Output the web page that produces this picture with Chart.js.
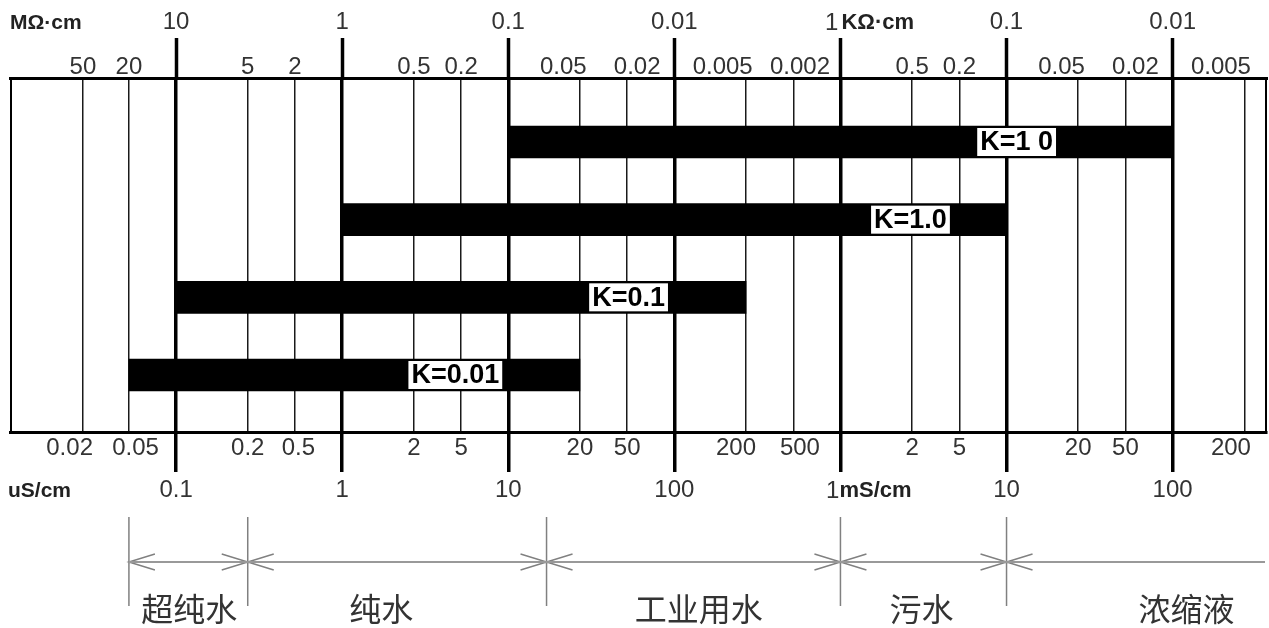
<!DOCTYPE html>
<html>
<head>
<meta charset="utf-8">
<title>电导率范围</title>
<script src="https://cdn.jsdelivr.net/npm/chart.js@4.4.1/dist/chart.umd.min.js"></script>
<style>
  html, body { margin: 0; padding: 0; background: #fff; }
  canvas { display: block; }
</style>
</head>
<body>
<canvas id="mycanvas" width="1269" height="628"></canvas>
<script>
// bottom scale is conductivity in uS/cm, top scale is resistivity (1 / conductivity)
var majorTicks = [0.1, 1, 10, 100, 1000, 10000, 100000];
var bottomMajorLabels = ['0.1', '1', '10', '100', '1', '10', '100'];
var bottomMajorUnits = ['', '', '', '', 'mS/cm', '', ''];
var topMajorLabels = ['10', '1', '0.1', '0.01', '1', '0.1', '0.01'];
var topMajorUnits = ['', '', '', '', 'KΩ·cm', '', ''];

// minor lines, placed where the picture has them
var minorTicks = [0.0275, 0.052, 0.27, 0.52, 2.7, 5.2, 27, 52, 270, 520, 2700, 5200, 27000, 52000, 270000];
var bottomMinorLabels = ['0.02', '0.05', '0.2', '0.5', '2', '5', '20', '50', '200', '500', '2', '5', '20', '50', '200'];
var topMinorLabels = ['50', '20', '5', '2', '0.5', '0.2', '0.05', '0.02', '0.005', '0.002', '0.5', '0.2', '0.05', '0.02', '0.005'];

// measuring ranges per cell constant
var cellConstants = ['K=1 0', 'K=1.0', 'K=0.1', 'K=0.01'];
var rangeFrom = [10, 1, 0.1, 0.052];
var rangeTo = [100000, 10000, 270, 27];
var tagAt = [11500, 2640, 53, 4.8];

// water classes under the chart
var waterTypes = ['超纯水', '纯水', '工业用水', '污水', '浓缩液'];
var waterFrom = [0.052, 0.27, 17, 1000, 10000];
var waterTagAt = [0.12, 1.72, 140, 3080, 121000];

// the minor labels in the picture sit a little off their lines (px, + is right)
var bottomNudge = [-14, 6, 0, 4, 0, 0, 0, 0, -11, 6, 0, 0, 0, 0, -13];
var topNudge = [0, 0, 0, 0, 0, 0, -16, 10, -23, 6, 0, 0, -16, 9, -23];

var allTicks = minorTicks.concat(majorTicks).sort(function(a, b){ return a - b; });
var FONT = '"Liberation Sans", Arial, sans-serif';
var TICK_SIZE = 24;

function isMajor(ctx){
	return ctx.tick && majorTicks.indexOf(ctx.tick.value) >= 0;
}
function setTicks(scale){
	scale.ticks = allTicks.map(function(v){ return {value: v}; });
}
// shift a centred label sideways by padding it with spaces
function nudge(text, px){
	var n = Math.round(Math.abs(px) / (0.278 * TICK_SIZE / 2));
	var pad = new Array(n + 1).join(' ');
	return px < 0 ? text + pad : pad + text;
}

var extras = {
	id: 'extras',
	afterDraw: function(chart){
		var ctx = chart.ctx;
		var area = chart.chartArea;
		var xs = chart.scales.x;
		var xt = chart.scales.x2;
		ctx.save();

		// left and right edge of the frame
		ctx.strokeStyle = '#000';
		ctx.lineWidth = 2;
		ctx.beginPath();
		ctx.moveTo(area.left + 1, area.top);
		ctx.lineTo(area.left + 1, area.bottom);
		ctx.moveTo(area.right - 1, area.top);
		ctx.lineTo(area.right - 1, area.bottom);
		ctx.stroke();

		// tags on the bars
		var meta = chart.getDatasetMeta(0);
		ctx.font = 'bold 27px ' + FONT;
		ctx.textAlign = 'center';
		ctx.textBaseline = 'middle';
		meta.data.forEach(function(bar, i){
			var cx = xs.getPixelForValue(tagAt[i]);
			var w = ctx.measureText(cellConstants[i]).width + 6;
			var h = bar.height - 4;
			ctx.fillStyle = '#fff';
			ctx.fillRect(cx - w / 2, bar.y - h / 2, w, h);
			ctx.fillStyle = '#000';
			ctx.fillText(cellConstants[i], cx, bar.y + 1);
		});

		// unit names
		ctx.fillStyle = '#222';
		ctx.textAlign = 'left';
		ctx.font = 'bold 21px ' + FONT;
		ctx.fillText('MΩ·cm', area.left, 23);
		ctx.fillText('uS/cm', area.left - 2, 491);
		majorTicks.forEach(function(v, i){
			var p;
			if(topMajorUnits[i]){
				p = xt.getPixelForValue(v);
				ctx.font = TICK_SIZE + 'px ' + FONT;
				ctx.fillStyle = '#333';
				ctx.textAlign = 'right';
				ctx.fillText(topMajorLabels[i], p - 2, 23);
				ctx.font = 'bold 22px ' + FONT;
				ctx.fillStyle = '#222';
				ctx.textAlign = 'left';
				ctx.fillText(topMajorUnits[i], p + 1, 23);
			}
			if(bottomMajorUnits[i]){
				p = xs.getPixelForValue(v);
				ctx.font = TICK_SIZE + 'px ' + FONT;
				ctx.fillStyle = '#333';
				ctx.textAlign = 'right';
				ctx.fillText(bottomMajorLabels[i], p - 1, 491);
				ctx.font = 'bold 22px ' + FONT;
				ctx.fillStyle = '#222';
				ctx.textAlign = 'left';
				ctx.fillText(bottomMajorUnits[i], p - 1, 491);
			}
		});

		// range brackets
		var yTop = 517, yBot = 606, yMid = 562, aw = 26, ah = 8;
		ctx.strokeStyle = '#808080';
		ctx.lineWidth = 1.5;
		ctx.beginPath();
		waterFrom.forEach(function(v, i){
			var p = xs.getPixelForValue(v);
			ctx.moveTo(p, yTop);
			ctx.lineTo(p, yBot);
			ctx.moveTo(p + aw, yMid - ah);
			ctx.lineTo(p, yMid);
			ctx.lineTo(p + aw, yMid + ah);
			if(i > 0){
				ctx.moveTo(p - aw, yMid - ah);
				ctx.lineTo(p, yMid);
				ctx.lineTo(p - aw, yMid + ah);
			}
		});
		ctx.stroke();
		ctx.strokeStyle = '#999';
		ctx.lineWidth = 2;
		ctx.beginPath();
		ctx.moveTo(xs.getPixelForValue(waterFrom[0]), yMid);
		ctx.lineTo(area.right - 2, yMid);
		ctx.stroke();

		ctx.font = '32px "Noto Sans CJK SC", sans-serif';
		ctx.fillStyle = '#333';
		ctx.textAlign = 'center';
		ctx.textBaseline = 'middle';
		waterTypes.forEach(function(t, i){
			ctx.fillText(t, xs.getPixelForValue(waterTagAt[i]), 609);
		});
		ctx.restore();
	}
};

var chartdata = {
	datasets: [
	{
		label: '测量范围',
		backgroundColor: '#000',
		borderWidth: 0,
		barThickness: 32,
		data: cellConstants.map(function(k, i){
			return {x: [rangeFrom[i], rangeTo[i]], y: i};
		})
	}
	]
};

var ctx = document.getElementById('mycanvas');
var barGraph = new Chart(ctx, {
	type: 'bar',
	data: chartdata,
	plugins: [extras],
	options: {
		indexAxis: 'y',
		responsive: false,
		animation: false,
		layout: { padding: {left: 10, right: 2, top: 0, bottom: 0} },
		plugins: { legend: {display: false}, tooltip: {enabled: false} },
		scales: {
			y: {
				type: 'linear',
				display: false,
				reverse: true,
				offset: false,
				min: -0.824,
				max: 3.734,
				grid: {offset: false}
			},
			x: {
				type: 'logarithmic',
				position: 'bottom',
				min: 0.01,
				max: 370000,
				bounds: 'data',
				afterBuildTicks: setTicks,
				afterFit: function(s){ s.height = 196; },
				border: {display: true, color: '#000', width: 3},
				grid: {
					drawOnChartArea: true,
					drawTicks: true,
					tickLength: 40,
					color: function(c){ return isMajor(c) ? '#000' : '#1a1a1a'; },
					lineWidth: function(c){ return isMajor(c) ? 3.5 : 1.5; },
					tickColor: function(c){ return isMajor(c) ? '#000' : 'rgba(0,0,0,0)'; },
					tickWidth: 3.5
				},
				ticks: {
					autoSkip: false,
					maxRotation: 0,
					minRotation: 0,
					padding: -34.5,
					color: '#333',
					font: {family: FONT, size: TICK_SIZE, lineHeight: '21px'},
					callback: function(value){
						var mi = minorTicks.indexOf(value);
						if(mi >= 0) return nudge(bottomMinorLabels[mi], bottomNudge[mi]);
						var ma = majorTicks.indexOf(value);
						if(ma >= 0) return ['', '', bottomMajorUnits[ma] ? '' : bottomMajorLabels[ma]];
						return '';
					}
				}
			},
			x2: {
				type: 'logarithmic',
				position: 'top',
				min: 0.01,
				max: 370000,
				bounds: 'data',
				afterBuildTicks: setTicks,
				afterFit: function(s){ s.height = 78; },
				border: {display: true, color: '#000', width: 3},
				grid: {
					drawOnChartArea: false,
					drawTicks: true,
					tickLength: 40,
					tickColor: function(c){ return isMajor(c) ? '#000' : 'rgba(0,0,0,0)'; },
					tickWidth: 3.5
				},
				ticks: {
					autoSkip: false,
					maxRotation: 0,
					minRotation: 0,
					padding: -40.25,
					color: '#333',
					font: {family: FONT, size: TICK_SIZE, lineHeight: '22.5px'},
					callback: function(value){
						var mi = minorTicks.indexOf(value);
						if(mi >= 0) return nudge(topMinorLabels[mi], topNudge[mi]);
						var ma = majorTicks.indexOf(value);
						if(ma >= 0) return [topMajorUnits[ma] ? '' : topMajorLabels[ma], '', ''];
						return '';
					}
				}
			}
		}
	}
});
</script>
</body>
</html>
